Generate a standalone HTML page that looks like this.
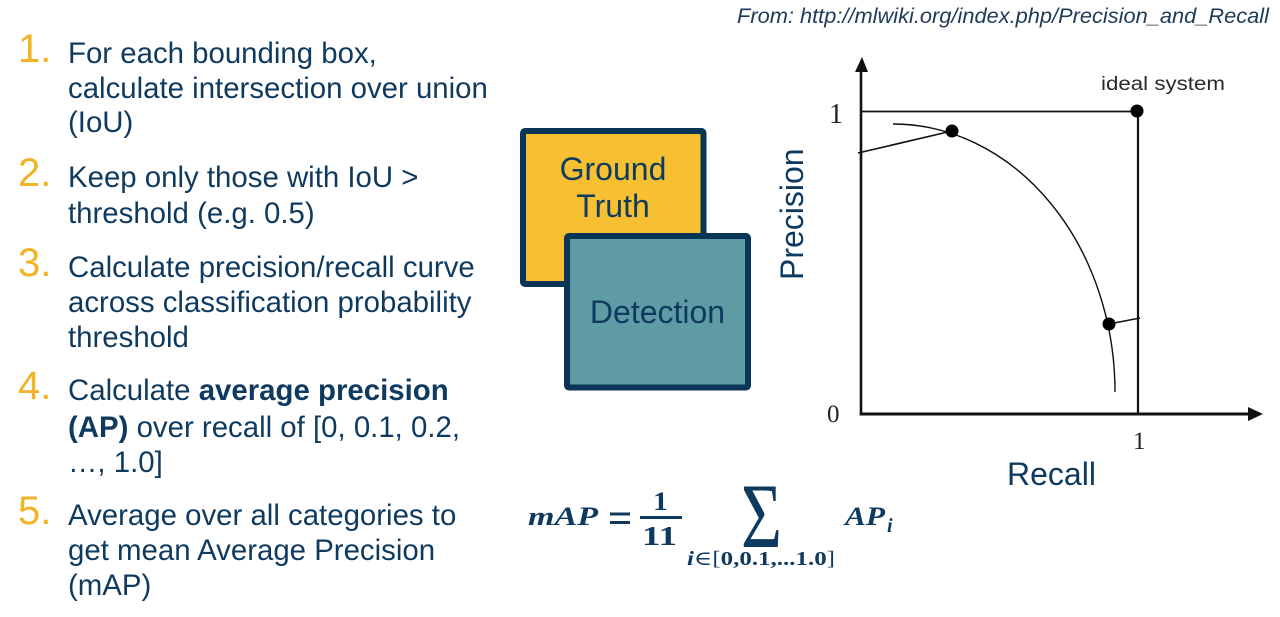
<!DOCTYPE html>
<html>
<head>
<meta charset="utf-8">
<style>
  html,body{margin:0;padding:0;background:#fff;}
  body{width:1280px;height:617px;overflow:hidden;}
  svg{display:block;}
  .t{font-family:"Liberation Sans",Arial,sans-serif;font-size:29.4px;fill:#0f3a5f;}
  .n{font-family:"Liberation Sans",Arial,sans-serif;font-size:40px;fill:#f2b325;}
  .m{font-family:"Liberation Serif","DejaVu Serif",serif;font-weight:bold;fill:#0f3a5f;}
</style>
</head>
<body>
<svg width="1280" height="617" viewBox="0 0 1280 617" xmlns="http://www.w3.org/2000/svg">
  <!-- header -->
  <text x="737" y="23" font-family="Liberation Sans, Arial, sans-serif" font-style="italic" font-size="21.5" fill="#1d3a58" textLength="532" lengthAdjust="spacingAndGlyphs">From: http://mlwiki.org/index.php/Precision_and_Recall</text>

  <!-- numbered list -->
  <text class="n" x="18" y="62">1.</text>
  <text class="t" x="68" y="63">For each bounding box,</text>
  <text class="t" x="68" y="98">calculate intersection over union</text>
  <text class="t" x="68" y="132">(IoU)</text>

  <text class="n" x="18" y="186">2.</text>
  <text class="t" x="68" y="187">Keep only those with IoU &gt;</text>
  <text class="t" x="68" y="223">threshold (e.g. 0.5)</text>

  <text class="n" x="18" y="276">3.</text>
  <text class="t" x="68" y="277">Calculate precision/recall curve</text>
  <text class="t" x="68" y="312">across classification probability</text>
  <text class="t" x="68" y="347">threshold</text>

  <text class="n" x="18" y="399">4.</text>
  <text class="t" x="68" y="400">Calculate <tspan font-weight="bold">average precision</tspan></text>
  <text class="t" x="68" y="437"><tspan font-weight="bold">(AP)</tspan> over recall of [0, 0.1, 0.2,</text>
  <text class="t" x="68" y="472">…, 1.0]</text>

  <text class="n" x="18" y="524">5.</text>
  <text class="t" x="68" y="525">Average over all categories to</text>
  <text class="t" x="68" y="560">get mean Average Precision</text>
  <text class="t" x="68" y="595">(mAP)</text>

  <!-- boxes -->
  <rect x="523" y="131" width="180.5" height="153" rx="2" fill="#f6c032" stroke="#0b3556" stroke-width="6"/>
  <text x="613" y="180" text-anchor="middle" font-family="Liberation Sans, Arial, sans-serif" font-size="32" fill="#0f3a5f">Ground</text>
  <text x="613" y="217" text-anchor="middle" font-family="Liberation Sans, Arial, sans-serif" font-size="32" fill="#0f3a5f">Truth</text>
  <rect x="567" y="236" width="181" height="151.5" rx="2" fill="#5e9ba4" stroke="#0b3556" stroke-width="6"/>
  <text x="657.5" y="323" text-anchor="middle" font-family="Liberation Sans, Arial, sans-serif" font-size="32" fill="#0f3a5f">Detection</text>

  <!-- chart -->
  <g stroke="#111" fill="none">
    <line x1="861" y1="70" x2="861" y2="415.5" stroke-width="2.6"/>
    <line x1="859.7" y1="414" x2="1250" y2="414" stroke-width="3"/>
    <line x1="861" y1="111.5" x2="1138" y2="111.5" stroke-width="1.8"/>
    <line x1="1138" y1="111" x2="1138" y2="414" stroke-width="2.2"/>
    <path d="M893,124 A222,268 0 0 1 1115,392" stroke-width="1.4"/>
    <line x1="858" y1="153" x2="952" y2="131" stroke-width="1.6"/>
    <line x1="1109" y1="324" x2="1140" y2="318" stroke-width="1.6"/>
  </g>
  <polygon points="862,57 855,72 868,72" fill="#111"/>
  <polygon points="1263,414 1248,407 1248,421" fill="#111"/>
  <circle cx="1137" cy="111" r="6.5" fill="#000"/>
  <circle cx="952" cy="131" r="6.5" fill="#000"/>
  <circle cx="1109" cy="324" r="6.5" fill="#000"/>

  <text x="829" y="123" font-family="Liberation Serif, serif" font-size="28" fill="#222">1</text>
  <text x="827" y="422" font-family="Liberation Serif, serif" font-size="25" fill="#222">0</text>
  <text x="1133" y="449" font-family="Liberation Serif, serif" font-size="25" fill="#222">1</text>
  <text x="1101" y="90" font-family="Liberation Sans, Arial, sans-serif" font-size="19" fill="#2a2a2a" textLength="124" lengthAdjust="spacingAndGlyphs">ideal system</text>

  <text transform="translate(803,280) rotate(-90)" font-family="Liberation Sans, Arial, sans-serif" font-size="32" fill="#0f3a5f">Precision</text>
  <text x="1007" y="485" font-family="Liberation Sans, Arial, sans-serif" font-size="32" fill="#0f3a5f">Recall</text>

  <!-- formula -->
  <text class="m" x="528" y="525" font-size="26" font-style="italic" textLength="70" lengthAdjust="spacingAndGlyphs">mAP</text>
  <rect x="610" y="512.5" width="20" height="3" fill="#0f3a5f"/>
  <rect x="610" y="521" width="20" height="3" fill="#0f3a5f"/>
  <text class="m" x="653" y="510" font-size="26" textLength="15" lengthAdjust="spacingAndGlyphs">1</text>
  <rect x="640" y="516" width="42" height="3" fill="#0f3a5f"/>
  <text class="m" x="642" y="545" font-size="27" textLength="35" lengthAdjust="spacingAndGlyphs">11</text>
  <text x="741" y="547" font-family="Liberation Serif, serif" font-size="92" fill="#0f3a5f" textLength="41" lengthAdjust="spacingAndGlyphs">Σ</text>
  <text class="m" x="687" y="565" font-size="20" textLength="148" lengthAdjust="spacingAndGlyphs"><tspan font-style="italic">i</tspan><tspan font-weight="normal">∈[</tspan>0,0.1,...1.0<tspan font-weight="normal">]</tspan></text>
  <text class="m" x="845" y="525" font-size="26" font-style="italic" textLength="40" lengthAdjust="spacingAndGlyphs">AP</text>
  <text class="m" x="887" y="532" font-size="20" font-style="italic">i</text>
</svg>
</body>
</html>
